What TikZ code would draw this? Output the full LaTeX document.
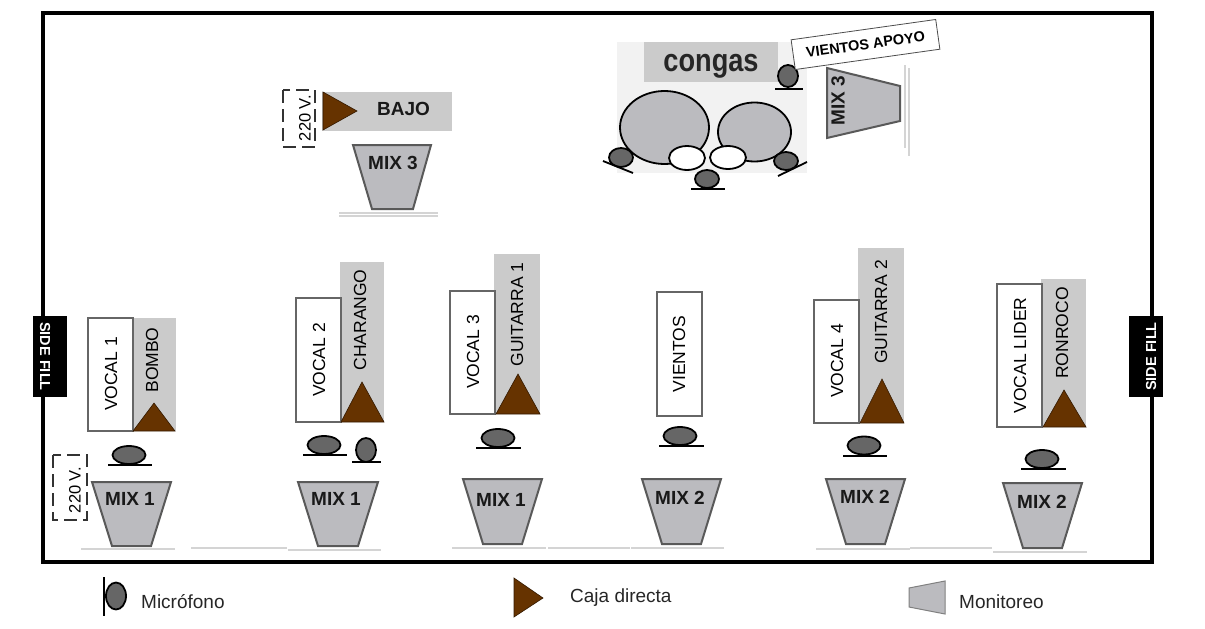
\documentclass[tikz,border=0pt]{standalone}
\usepackage{fontspec}
\setmainfont{Liberation Sans}
\definecolor{boxgray}{HTML}{CBCBCB}
\definecolor{mongray}{HTML}{BBBBBF}
\definecolor{micgray}{HTML}{666666}
\definecolor{cajabrown}{HTML}{663300}
\definecolor{floorgray}{HTML}{D4D4D4}
\tikzset{
  boxlabel/.style={font=\fontsize{17.5}{17.5}\selectfont,text=black},
  voltlabel/.style={font=\fontsize{16.5}{16.5}\selectfont,text=black},
  mixlabel/.style={font=\fontsize{19}{19}\selectfont\bfseries,text=black!90},
  whitebox/.style={draw=black!60,line width=1.2pt,fill=white},
  graybox/.style={fill=boxgray},
  monitor/.style={draw=black!65,line width=2pt,fill=mongray,line join=miter},
  caja/.style={fill=cajabrown,draw=black!50!cajabrown,line width=.6pt},
  mic/.style={draw=black,line width=1.8pt,fill=micgray},
  micbar/.style={draw=black,line width=1.8pt},
  floorline/.style={draw=floorgray,line width=1.2pt},
  voltbox/.style={draw=black!80,line width=1.8pt,dash pattern=on 13pt off 6pt},
  sidefill/.style={fill=black,text=white,font=\fontsize{14.5}{14.5}\selectfont\bfseries,minimum width=81pt,text height=27pt,text depth=7pt,inner sep=0pt},
  legendtext/.style={font=\fontsize{19}{19}\selectfont,text=black!85,anchor=west,inner sep=0pt}
}
\begin{document}
\begin{tikzpicture}[x=1pt,y=-1pt]
    \useasboundingbox (0,0) rectangle (1205,629);
    % stage
    \draw[line width=3.4pt] (43,13) rectangle (1152,562);
    \node[sidefill,rotate=-90] (fillL) at (50,356.5) {SIDE FILL};
    \node[sidefill,rotate=90] (fillR) at (1146,356.5) {SIDE FILL};
    % floor lines
    \foreach \xa/\xb/\yy in {81/175/549,191/287/548,288/381/550,452/546/548,548/630/548,631/724/548,816/910/549,910/992/548,993/1087/552,339/438/216,339/438/213}
      \draw[floorline] (\xa,\yy) -- (\xb,\yy);
    \draw[floorline] (905,65) -- (905,148);
    \draw[floorline] (909,68) -- (909,156);
    % bajo
    \fill[graybox] (322,92) rectangle (452,131);
    \fill[caja] (323,92) -- (357,111) -- (323,130) -- cycle;
    \node[mixlabel] (bajo) at (403.5,109) {BAJO};
    \draw[voltbox] (283,90) rectangle (315,147);
    \node[voltlabel,rotate=90] (voltB) at (305,118) {220 V.};
    % congas
    \fill[black!5] (617,42) rectangle (807,173);
    \fill[boxgray] (644,42) rectangle (778,82);
    \node[font=\fontsize{32}{32}\selectfont\bfseries,text=black!85,xscale=.85,transform shape] (congas) at (711,66) {congas};
    \draw[mic,fill=mongray] (664.5,127.5) ellipse (44.5 and 36.5);
    \draw[mic,fill=mongray] (754.5,132) ellipse (36.5 and 29.5);
    \draw[mic,fill=white] (687,158) ellipse (18 and 12);
    \draw[mic,fill=white] (728,157.5) ellipse (18 and 11.5);
    \draw[mic] (621,157.5) ellipse (12 and 9.5);
    \draw[micbar] (603,161) -- (633,173);
    \draw[mic] (786,161) ellipse (12 and 9);
    \draw[micbar] (778,176) -- (807,162);
    \draw[mic] (707,179) ellipse (12 and 9);
    \draw[micbar] (691,189) -- (725,189);
    \draw[mic] (788,76) ellipse (10 and 11);
    \draw[micbar] (775,89) -- (803,89);
    % vientos apoyo
    \node[draw=black!70,line width=.8pt,fill=white,rotate=8,minimum width=146pt,minimum height=30pt,inner sep=0pt,font=\fontsize{14.5}{14.5}\selectfont\bfseries] (apoyo) at (865.5,44.5) {VIENTOS APOYO};
    % mix 3 lateral
    \draw[monitor] (827,68) -- (900,86) -- (900,121) -- (827,138) -- cycle;
    \node[mixlabel,rotate=90] (mixC) at (838,101) {MIX 3};
    \draw[monitor] (353,145) -- (431,145) -- (413,209) -- (372,209) -- cycle;
    \node[mixlabel] (mixB) at (393,163) {MIX 3};
    % musicians
    \foreach \xw/\yt/\yb/\xg/\yg/\voc/\ins/\yv/\yi/\xt in {
      88/318/431/176/318/{VOCAL 1}/BOMBO/374/360/152,
      296/298/422/384/262/{VOCAL 2}/CHARANGO/360/320/360,
      450/291/414/540/254/{VOCAL 3}/{GUITARRA 1}/352/314.5/517,
      814/300/423/904/248/{VOCAL 4}/{GUITARRA 2}/361/312/881,
      997/284/427/1086/279/{VOCAL LIDER}/RONROCO/355.5/333/1062}
    {
      \fill[graybox] (\xw+44,\yg) rectangle (\xg,\yb);
      \draw[whitebox] (\xw,\yt) rectangle (\xw+45,\yb);
      \node[boxlabel,rotate=90] (voc\xw) at (\xw+23,\yv) {\voc};
      \node[boxlabel,rotate=90] (ins\xw) at (\xt,\yi) {\ins};
    }
    \draw[whitebox] (657,292) rectangle (702,416);
    \node[boxlabel,rotate=90] (vientos) at (679,354) {VIENTOS};
    % cajas directas
    \fill[caja] (133,431) -- (154,403) -- (175,431) -- cycle;
    \fill[caja] (341,422) -- (362,382) -- (384,422) -- cycle;
    \fill[caja] (496,414) -- (518,374) -- (540,414) -- cycle;
    \fill[caja] (860,423) -- (882,379) -- (904,423) -- cycle;
    \fill[caja] (1043,427) -- (1064,390) -- (1086,427) -- cycle;
    % microfonos
    \foreach \xm/\ym/\xa/\xb/\yb in {129/455/108/152/465,324/445/303/347/455,498/438/476/521/448,680/436/659/704/446,864/445.5/843/887/456,1042/459/1021/1066/469}
    {
      \draw[mic] (\xm,\ym) ellipse (16.5 and 9);
      \draw[micbar] (\xa,\yb) -- (\xb,\yb);
    }
    \draw[mic] (366,450) ellipse (10 and 12);
    \draw[micbar] (352,462) -- (381,462);
    % monitores
    \foreach \xl/\xr/\xc/\yt/\yb/\yl/\txt in {92/171/130/482/546/499/MIX 1,298/378/336/482/546/499/MIX 1,463/542/501/479/544/500/MIX 1,642/721/680/479/544/498/MIX 2,826/905/865/479/544/497/MIX 2,1003/1082/1042/483/548/502/MIX 2}
    {
      \draw[monitor] (\xl,\yt) -- (\xr,\yt) -- (\xr-20,\yb) -- (\xl+20,\yb) -- cycle;
      \node[mixlabel] (mix\xl) at (\xc,\yl) {\txt};
    }
    \draw[voltbox] (53,455) rectangle (87,520);
    \node[voltlabel,rotate=90] (voltA) at (75,490) {220 V.};
    % legend
    \draw[mic] (116,596) ellipse (10 and 13.5);
    \draw[micbar] (104,577) -- (104,616);
    \node[legendtext] (lmic) at (141,602) {Micrófono};
    \fill[caja] (514,578) -- (543,598) -- (514,617) -- cycle;
    \node[legendtext] (lcaja) at (570,598) {Caja directa};
    \draw[draw=black!50,line width=1pt,fill=mongray] (909,588) -- (945,581) -- (945,614) -- (909,607) -- cycle;
    \node[legendtext] (lmon) at (959,602) {Monitoreo};
\end{tikzpicture}
\end{document}
